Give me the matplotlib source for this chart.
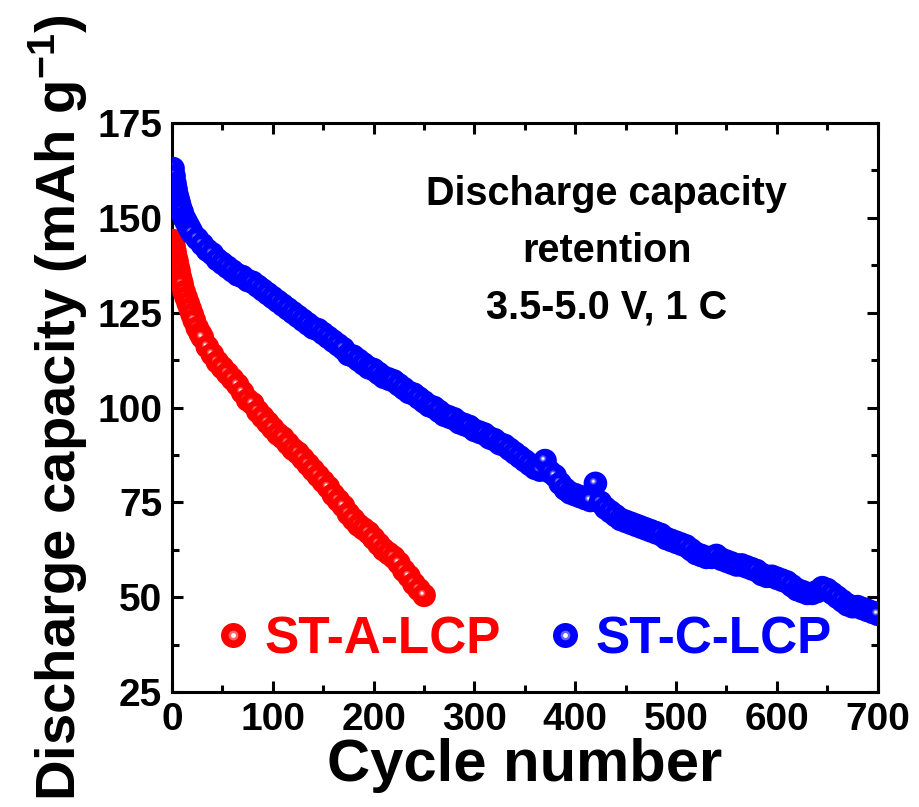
import matplotlib
matplotlib.use("Agg")
import matplotlib.pyplot as plt
import matplotlib.transforms as mtransforms
from matplotlib.lines import Line2D
from matplotlib.ticker import MultipleLocator
import numpy as np

# ---------------- data ----------------
cycles_a = [1, 2, 3, 4, 5, 6, 7, 8, 9, 10, 12, 14, 16, 18, 20, 22, 25, 28, 30, 35, 40, 45, 50,
            55, 60, 65, 70, 75, 80, 85, 90, 95, 100, 105, 110, 115, 120, 125, 130, 135, 140,
            145, 150, 155, 160, 165, 170, 175, 180, 185, 190, 195, 200, 205, 210, 215, 220,
            225, 230, 235, 240, 245, 250]
cap_a = [144, 142.5, 141, 139.5, 138.5, 137, 136, 134.5, 133.5, 132.5, 130.5, 129, 127.5, 126,
         124.5, 123, 121, 119.5, 118.5, 116, 114, 112, 110.5, 109, 107.5, 106, 104, 102, 101, 99,
         97.5, 96, 94.5, 93, 92, 90.5, 89, 88, 86.5, 85, 83.5, 82, 80.5, 79, 77, 75.5, 74, 72,
         70.5, 69, 68, 67, 65.5, 64, 62.5, 61.5, 60.5, 59, 57, 55.5, 53.5, 52, 50.5]

cycles_c = [1, 2, 3, 4, 5, 6, 7, 8, 9, 10, 12, 14, 16, 18, 20, 25, 30, 35, 40, 45, 50, 55, 60,
            65, 70, 75, 80, 85, 90, 95, 100, 105, 110, 115, 120, 125, 130, 135, 140, 145, 150,
            155, 160, 165, 170, 175, 180, 185, 190, 195, 200, 205, 210, 215, 220, 225, 230, 235,
            240, 245, 250, 255, 260, 265, 270, 275, 280, 285, 290, 295, 300, 305, 310, 315, 320,
            325, 330, 335, 340, 345, 350, 355, 360, 365, 370, 375, 380, 385, 390, 395, 400, 405,
            410, 415, 420, 425, 430, 435, 440, 445, 450, 455, 460, 465, 470, 475, 480, 485, 490,
            495, 500, 505, 510, 515, 520, 525, 530, 535, 540, 545, 550, 555, 560, 565, 570, 575,
            580, 585, 590, 595, 600, 605, 610, 615, 620, 625, 630, 635, 640, 645, 650, 655, 660,
            665, 670, 675, 680, 685, 690, 695, 700]
cap_c = [163, 161, 159, 157.5, 156, 155, 154, 153, 152, 151.5, 150, 149, 148, 147, 146, 144.5,
         143, 141.5, 140.5, 139, 138, 137, 136, 135, 134.5, 133.5, 133, 132, 131, 130, 129, 128,
         127, 126, 125, 124, 123, 122, 121, 120.5, 119.5, 118.5, 117.5, 116.5, 115.5, 114, 113.5,
         112.5, 111.5, 110.5, 110, 109, 108, 107.5, 107, 106, 105, 104, 103.5, 102.5, 101.5,
         100.5, 100, 99, 98, 97.5, 97, 96, 95.5, 95, 94, 93.5, 93, 92, 91.5, 90.5, 90, 89, 88,
         87, 86, 85, 84, 83.5, 86, 83, 82, 80, 78.5, 77.5, 77, 76.5, 76, 75.5, 80, 75, 73.5,
         72.5, 71.5, 70.5, 70, 69.5, 69, 68.5, 68, 67.5, 67, 66.5, 65.5, 65, 64.5, 64, 63.5,
         62.5, 61.5, 61, 60.5, 60.5, 61, 60, 59.5, 59, 58.5, 58.5, 58, 57.5, 57, 56, 55.5, 55.5,
         55, 54.5, 54, 53, 52, 51.5, 51, 51, 51.5, 52.5, 52, 51, 50, 49, 48, 47.5, 47.5, 47,
         46.5, 46, 45.5]

labels = ["ST-A-LCP", "ST-C-LCP"]
colors = ["#FF0000", "#0000FF"]

xticks = [0, 100, 200, 300, 400, 500, 600, 700]
yticks = [25, 50, 75, 100, 125, 150, 175]

# ---------------- style ----------------
FONT = "Liberation Sans"
plt.rcParams["font.family"] = [FONT, "DejaVu Sans"]
plt.rcParams["font.weight"] = "bold"
plt.rcParams["mathtext.fontset"] = "custom"
plt.rcParams["mathtext.rm"] = FONT + ":bold"
plt.rcParams["mathtext.bf"] = FONT + ":bold"
plt.rcParams["mathtext.it"] = FONT + ":bold"

fig = plt.figure(figsize=(9.2, 8.07), dpi=100)
ax = fig.add_axes([0.187, 0.1425, 0.767, 0.705])


def mix(c, f):
    rgb = np.array(matplotlib.colors.to_rgb(c))
    return tuple(rgb + (1 - rgb) * f)


hl_off = mtransforms.ScaledTranslation(-1.5 / 72, 1.5 / 72, fig.dpi_scale_trans)
S_BASE = 290

for xs, ys, col in [(cycles_a, cap_a, colors[0]), (cycles_c, cap_c, colors[1])]:
    for xv, yv in zip(xs, ys):
        ax.scatter([xv], [yv], s=S_BASE, color=col, edgecolors="none", zorder=3)
        ax.scatter([xv], [yv], s=24, color=mix(col, 0.25), edgecolors="none", zorder=3,
                   transform=ax.transData + hl_off)
        ax.scatter([xv], [yv], s=9, color=mix(col, 0.6), edgecolors="none", zorder=3,
                   transform=ax.transData + hl_off)
        ax.scatter([xv], [yv], s=3, color="white", edgecolors="none", zorder=3,
                   transform=ax.transData + hl_off)

ax.set_xlim(0, 700)
ax.set_ylim(25, 175)
ax.set_xticks(xticks)
ax.set_yticks(yticks)
ax.xaxis.set_minor_locator(MultipleLocator(50))
ax.yaxis.set_minor_locator(MultipleLocator(12.5))
ax.tick_params(which="both", direction="in", top=True, right=True, width=2.2)
ax.tick_params(which="major", length=8, labelsize=28, pad=7)
ax.tick_params(which="minor", length=5)
for lab in ax.get_xticklabels() + ax.get_yticklabels():
    lab.set_fontweight("bold")
for sp in ax.spines.values():
    sp.set_linewidth(2.2)

ax.set_xlabel("Cycle number", fontsize=43, fontweight="bold", labelpad=0)
ax.set_ylabel("Discharge capacity (mAh g$^{-1}$)", fontsize=40.5, fontweight="bold",
              labelpad=5)

ax.text(0.616, 0.775, "Discharge capacity\nretention\n3.5-5.0 V, 1 C", transform=ax.transAxes,
        ha="center", va="center", fontsize=28.5, fontweight="bold", linespacing=1.62)

handles = []
for col in colors:
    base = Line2D([], [], marker="o", linestyle="none", markersize=18, color=col,
                  markeredgewidth=0)
    hl1 = Line2D([], [], marker="o", linestyle="none", markersize=7, color=mix(col, 0.4),
                 markeredgewidth=0)
    hl2 = Line2D([], [], marker="o", linestyle="none", markersize=3.5, color="white",
                 markeredgewidth=0)
    handles.append((base, hl1, hl2))

ax.legend(handles, labels, loc="center left", bbox_to_anchor=(0.065, 0.092), ncol=2,
          frameon=False, labelcolor=colors, handlelength=0.6,
          handletextpad=0.3, columnspacing=0.95, borderpad=0, borderaxespad=0,
          prop={"weight": "bold", "size": 37})

fig.savefig("out.png", dpi=100)
